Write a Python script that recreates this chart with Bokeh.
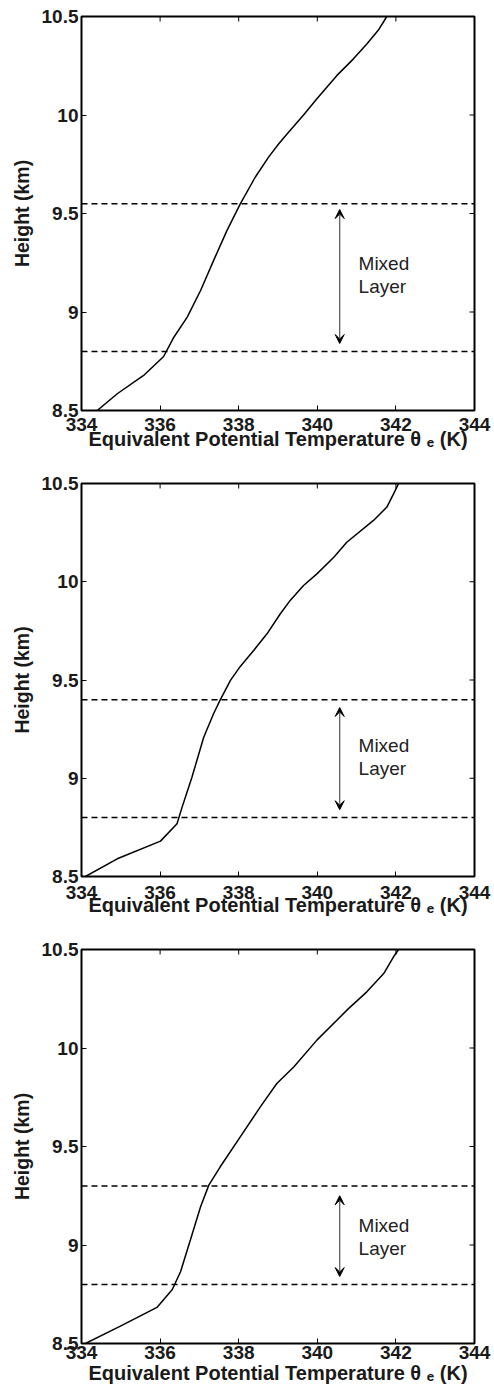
from bokeh.plotting import figure
from bokeh.models import Range1d, FixedTicker, Label, Arrow, VeeHead, Span
from bokeh.layouts import column
from bokeh.embed import file_html
from bokeh.resources import INLINE

# ---------------- data ----------------
x_ticks = [334, 336, 338, 340, 342, 344]
y_ticks = [8.5, 9, 9.5, 10, 10.5]
y_tick_labels = ["8.5", "9", "9.5", "10", "10.5"]
x_title = "Equivalent Potential Temperature θ \u2091 (K)"
y_title = "Height (km)"

theta_1 = [334.40, 334.91, 335.58, 336.09, 336.35, 336.69, 337.03, 337.36, 337.70,
           338.04, 338.42, 338.76, 339.02, 339.23, 339.65, 339.99, 340.50, 340.92,
           341.26, 341.55, 341.77]
height_1 = [8.500, 8.585, 8.678, 8.774, 8.872, 8.974, 9.109, 9.261, 9.413,
            9.549, 9.684, 9.786, 9.854, 9.904, 10.000, 10.082, 10.201, 10.285,
            10.360, 10.430, 10.500]

theta_2 = [334.10, 334.91, 336.01, 336.43, 336.56, 336.81, 337.11, 337.36, 337.53,
           337.79, 338.04, 338.38, 338.72, 339.06, 339.31, 339.65, 339.99, 340.42,
           340.75, 341.43, 341.77, 341.94, 342.07]
height_2 = [8.500, 8.590, 8.680, 8.768, 8.853, 9.005, 9.209, 9.328, 9.399,
            9.498, 9.569, 9.650, 9.735, 9.837, 9.905, 9.981, 10.040, 10.125,
            10.201, 10.312, 10.380, 10.447, 10.500]

theta_3 = [334.10, 334.99, 335.92, 336.31, 336.52, 336.77, 337.03, 337.24, 337.53,
           338.04, 338.55, 338.97, 339.40, 339.99, 340.80, 341.26, 341.69, 341.94,
           342.07]
height_3 = [8.500, 8.588, 8.683, 8.774, 8.864, 9.025, 9.194, 9.304, 9.397,
            9.549, 9.701, 9.820, 9.904, 10.040, 10.201, 10.285, 10.378, 10.463,
            10.500]

mixed_top = [9.55, 9.40, 9.30]
mixed_bottom = [8.80, 8.80, 8.80]
arrow_top = [9.52, 9.36, 9.25]
arrow_bottom = [8.84, 8.84, 8.84]
arrow_x = 340.57
text_x = 341.05
text_y = [9.19, 9.11, 9.04]

FONT = "Liberation Sans"
TXT = "#1a1a1a"

W = 494
LEFT, RIGHT = 81, 20
FRAME_W = W - LEFT - RIGHT
TICK = 5
tick_standoff = [7, 9, 2]
title_standoff = [-6, -8, 0]


def make_panel(theta, height, i, fig_h, b_top, b_bottom):
    frame_h = fig_h - b_top - b_bottom
    p = figure(width=W, height=fig_h, output_backend="svg", toolbar_location=None,
               x_range=Range1d(334, 344), y_range=Range1d(8.5, 10.5),
               min_border_left=LEFT, min_border_right=RIGHT,
               min_border_top=b_top, min_border_bottom=b_bottom,
               background_fill_color="white", border_fill_color="white")
    p.grid.visible = False
    p.outline_line_color = "black"
    p.outline_line_width = 2

    p.xaxis.ticker = FixedTicker(ticks=x_ticks)
    p.yaxis.ticker = FixedTicker(ticks=y_ticks)
    p.yaxis.major_label_overrides = {t: s for t, s in zip(y_ticks, y_tick_labels)}
    for ax in (p.xaxis, p.yaxis):
        ax.axis_line_color = None
        ax.major_tick_in = TICK
        ax.major_tick_out = 0
        ax.major_tick_line_color = "black"
        ax.minor_tick_line_color = None
        ax.major_label_text_font = FONT
        ax.major_label_text_font_style = "bold"
        ax.major_label_text_font_size = "19px"
        ax.major_label_text_color = TXT
        ax.axis_label_text_font = FONT
        ax.axis_label_text_font_style = "bold"
        ax.axis_label_text_color = TXT
    p.xaxis.major_label_standoff = tick_standoff[i]
    p.yaxis.major_label_standoff = 3
    p.yaxis.axis_label = y_title
    p.yaxis.axis_label_text_font_size = "19.5px"
    p.yaxis.axis_label_standoff = 6
    p.xaxis.axis_label = x_title
    p.xaxis.axis_label_text_font_size = "20px"
    p.xaxis.axis_label_standoff = title_standoff[i]

    # inward tick marks on top and right sides
    dx = TICK * 10.0 / FRAME_W
    dy = TICK * 2.0 / frame_h
    n = len(x_ticks)
    p.segment(x0=x_ticks, y0=[10.5] * n, x1=x_ticks, y1=[10.5 - dy] * n,
              line_color="black", line_width=1)
    m = len(y_ticks)
    p.segment(x0=[344] * m, y0=y_ticks, x1=[344 - dx] * m, y1=y_ticks,
              line_color="black", line_width=1)

    p.line(theta, height, line_color="black", line_width=1.5)

    for loc in (mixed_top[i], mixed_bottom[i]):
        p.add_layout(Span(location=loc, dimension="width", line_color="black",
                          line_width=1.5, line_dash="6 4"))

    p.add_layout(Arrow(x_start=arrow_x, y_start=arrow_bottom[i], x_end=arrow_x, y_end=arrow_top[i],
                       line_color="#555555", line_width=1.2,
                       start=VeeHead(size=9, fill_color="black", line_color="black", line_width=1),
                       end=VeeHead(size=9, fill_color="black", line_color="black", line_width=1)))

    p.add_layout(Label(x=text_x, y=text_y[i], text="Mixed\nLayer", text_font=FONT,
                       text_font_size="19px", text_color="#222222", text_baseline="middle",
                       text_align="left", text_line_height=1.1))
    return p


p1 = make_panel(theta_1, height_1, 0, 466, 16, 56)
p2 = make_panel(theta_2, height_2, 1, 466, 17, 56)
p3 = make_panel(theta_3, height_3, 2, 461, 17, 50)

layout = column(p1, p2, p3, spacing=0)
open("out.html", "w").write(file_html(layout, INLINE))
